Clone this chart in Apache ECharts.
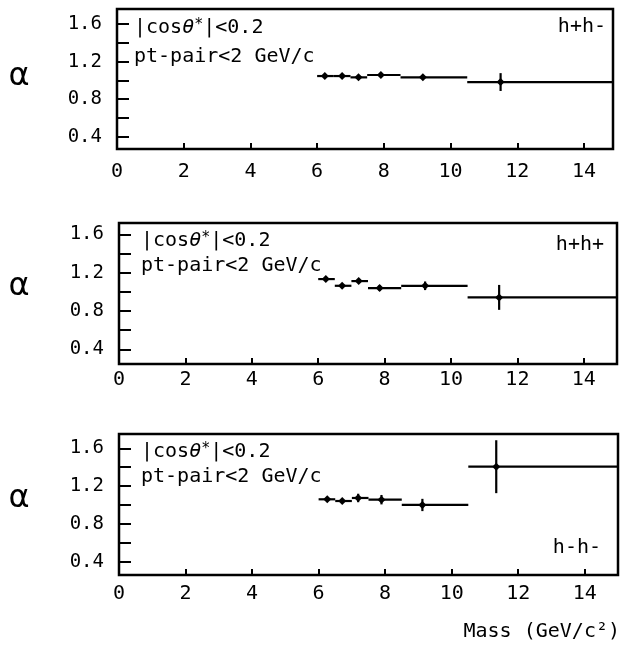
<!DOCTYPE html>
<html><head><meta charset="utf-8">
<script src="https://cdn.jsdelivr.net/npm/echarts@6/dist/echarts.min.js"></script>
<style>html,body{margin:0;padding:0;background:#fff}#c{width:625px;height:645px}</style>
</head><body><div id="c"></div>
<script>
// ---- data ----
const binLo = [6.0, 6.5, 7.0, 7.5, 8.5, 10.5];
const binHi = [6.5, 7.0, 7.5, 8.5, 10.5, 15.0];
const xTicks = [0, 2, 4, 6, 8, 10, 12, 14];
const yTicks = [0.4, 0.6, 0.8, 1.0, 1.2, 1.4, 1.6];
const yLabels = [0.4, 0.8, 1.2, 1.6];
const channels = ['h+h-', 'h+h+', 'h-h-'];

const massPM = [6.23, 6.75, 7.24, 7.91, 9.17, 11.50];
const alphaPM = [1.046, 1.046, 1.032, 1.057, 1.032, 0.982];
const errPM = [0.015, 0.015, 0.015, 0.015, 0.015, 0.095];

const massPP = [6.23, 6.72, 7.22, 7.85, 9.22, 11.45];
const alphaPP = [1.133, 1.063, 1.112, 1.039, 1.063, 0.942];
const errPP = [0.012, 0.012, 0.012, 0.030, 0.045, 0.130];

const massMM = [6.26, 6.71, 7.19, 7.89, 9.12, 11.34];
const alphaMM = [1.060, 1.042, 1.074, 1.056, 1.000, 1.405];
const errMM = [0.015, 0.015, 0.045, 0.050, 0.065, 0.280];

// ---- layout ----
const FONT = "'DejaVu Sans Mono', monospace";
const panels = [
  {left:117, top:9,   width:496, height:140, xmax:14.87, ymin:0.269, ymax:1.76,  xlm:13, mass:massPM, alpha:alphaPM, err:errPM,
   t1:[134,28], t2:[134,57], ch:[606,27], a:77},
  {left:119, top:223, width:498, height:141, xmax:15,    ymin:0.247, ymax:1.718, xlm:6,  mass:massPP, alpha:alphaPP, err:errPP,
   t1:[141,241], t2:[141,266], ch:[604,245], a:287},
  {left:119, top:434, width:499, height:141, xmax:15,    ymin:0.259, ymax:1.751, xlm:9,  mass:massMM, alpha:alphaMM, err:errMM,
   t1:[141,452], t2:[141,477], ch:[601,548], a:499}
];

function renderItem(params, api) {
  const cs = params.coordSys;
  const lo = api.value(0), hi = api.value(1), x = api.value(2), y = api.value(3), e = api.value(4);
  const L = api.coord([lo, y]), R = api.coord([hi, y]);
  const xr = Math.min(R[0], cs.x + cs.width);
  const T = api.coord([x, y + e]), B = api.coord([x, y - e]), C = api.coord([x, y]);
  const s = 4;
  return {type:'group', children:[
    {type:'line', shape:{x1:L[0], y1:L[1], x2:xr, y2:R[1]}, style:{stroke:'#000', lineWidth:2.2}},
    {type:'line', shape:{x1:T[0], y1:T[1], x2:B[0], y2:B[1]}, style:{stroke:'#000', lineWidth:2.2}},
    {type:'polygon', shape:{points:[[C[0], C[1]-s], [C[0]+s, C[1]], [C[0], C[1]+s], [C[0]-s, C[1]]]}, style:{fill:'#000'}}
  ]};
}

const grid = [], xAxis = [], yAxis = [], series = [], graphic = [];
panels.forEach((p, i) => {
  grid.push({left:p.left, top:p.top, width:p.width, height:p.height, show:true, borderColor:'#000', borderWidth:2.5, backgroundColor:'transparent', containLabel:false});
  xAxis.push({type:'value', gridIndex:i, min:0, max:p.xmax,
    axisLine:{show:false}, splitLine:{show:false},
    axisTick:{show:true, inside:true, length:6, customValues:xTicks, lineStyle:{color:'#000', width:2}},
    axisLabel:{show:true, customValues:xTicks, margin:p.xlm, color:'#000', fontFamily:FONT, fontSize:20}});
  yAxis.push({type:'value', gridIndex:i, min:p.ymin, max:p.ymax,
    axisLine:{show:false}, splitLine:{show:false},
    axisTick:{show:true, inside:true, length:12, customValues:yTicks, lineStyle:{color:'#000', width:2}},
    axisLabel:{show:true, customValues:yLabels, margin:15, color:'#000', fontFamily:FONT, fontSize:19,
      formatter:v => v.toFixed(1)}});
  const rows = p.mass.map((m, k) => [binLo[k], binHi[k], m, p.alpha[k], p.err[k]]);
  series.push({type:'custom', name:channels[i], xAxisIndex:i, yAxisIndex:i, renderItem:renderItem,
    dimensions:['lo','hi','mass','alpha','err'], encode:{x:[0,1,2], y:[3]}, data:rows, animation:false, silent:true});
  graphic.push({type:'text', x:p.t1[0], y:p.t1[1], style:{text:'|cos{t|θ}{s|*}|<0.2', font:'20px ' + FONT, fill:'#000',
      align:'left', verticalAlign:'middle', textAlign:'left', textVerticalAlign:'middle',
      rich:{t:{fontFamily:FONT, fontSize:20, fontStyle:'italic', fill:'#000'}, s:{fontFamily:FONT, fontSize:15, fill:'#000', padding:[0,0,6,0]}}}});
  graphic.push({type:'text', x:p.t2[0], y:p.t2[1], style:{text:'pt-pair<2 GeV/c', font:'20px ' + FONT, fill:'#000',
      align:'left', verticalAlign:'middle', textAlign:'left', textVerticalAlign:'middle'}});
  graphic.push({type:'text', x:p.ch[0], y:p.ch[1], style:{text:channels[i], font:'20px ' + FONT, fill:'#000',
      align:'right', verticalAlign:'middle', textAlign:'right', textVerticalAlign:'middle'}});
  graphic.push({type:'text', x:19, y:p.a, style:{text:'α', font:"32px 'DejaVu Sans'", fill:'#000',
      align:'center', verticalAlign:'middle', textAlign:'center', textVerticalAlign:'middle'}});
});
graphic.push({type:'text', x:620, y:632, style:{text:'Mass (GeV/c²)', font:'20px ' + FONT, fill:'#000',
  align:'right', verticalAlign:'middle', textAlign:'right', textVerticalAlign:'middle'}});

const chart = echarts.init(document.getElementById('c'), null, {renderer:'canvas'});
chart.setOption({animation:false, backgroundColor:'#fff', grid, xAxis, yAxis, series, graphic});
</script>
</body></html>
